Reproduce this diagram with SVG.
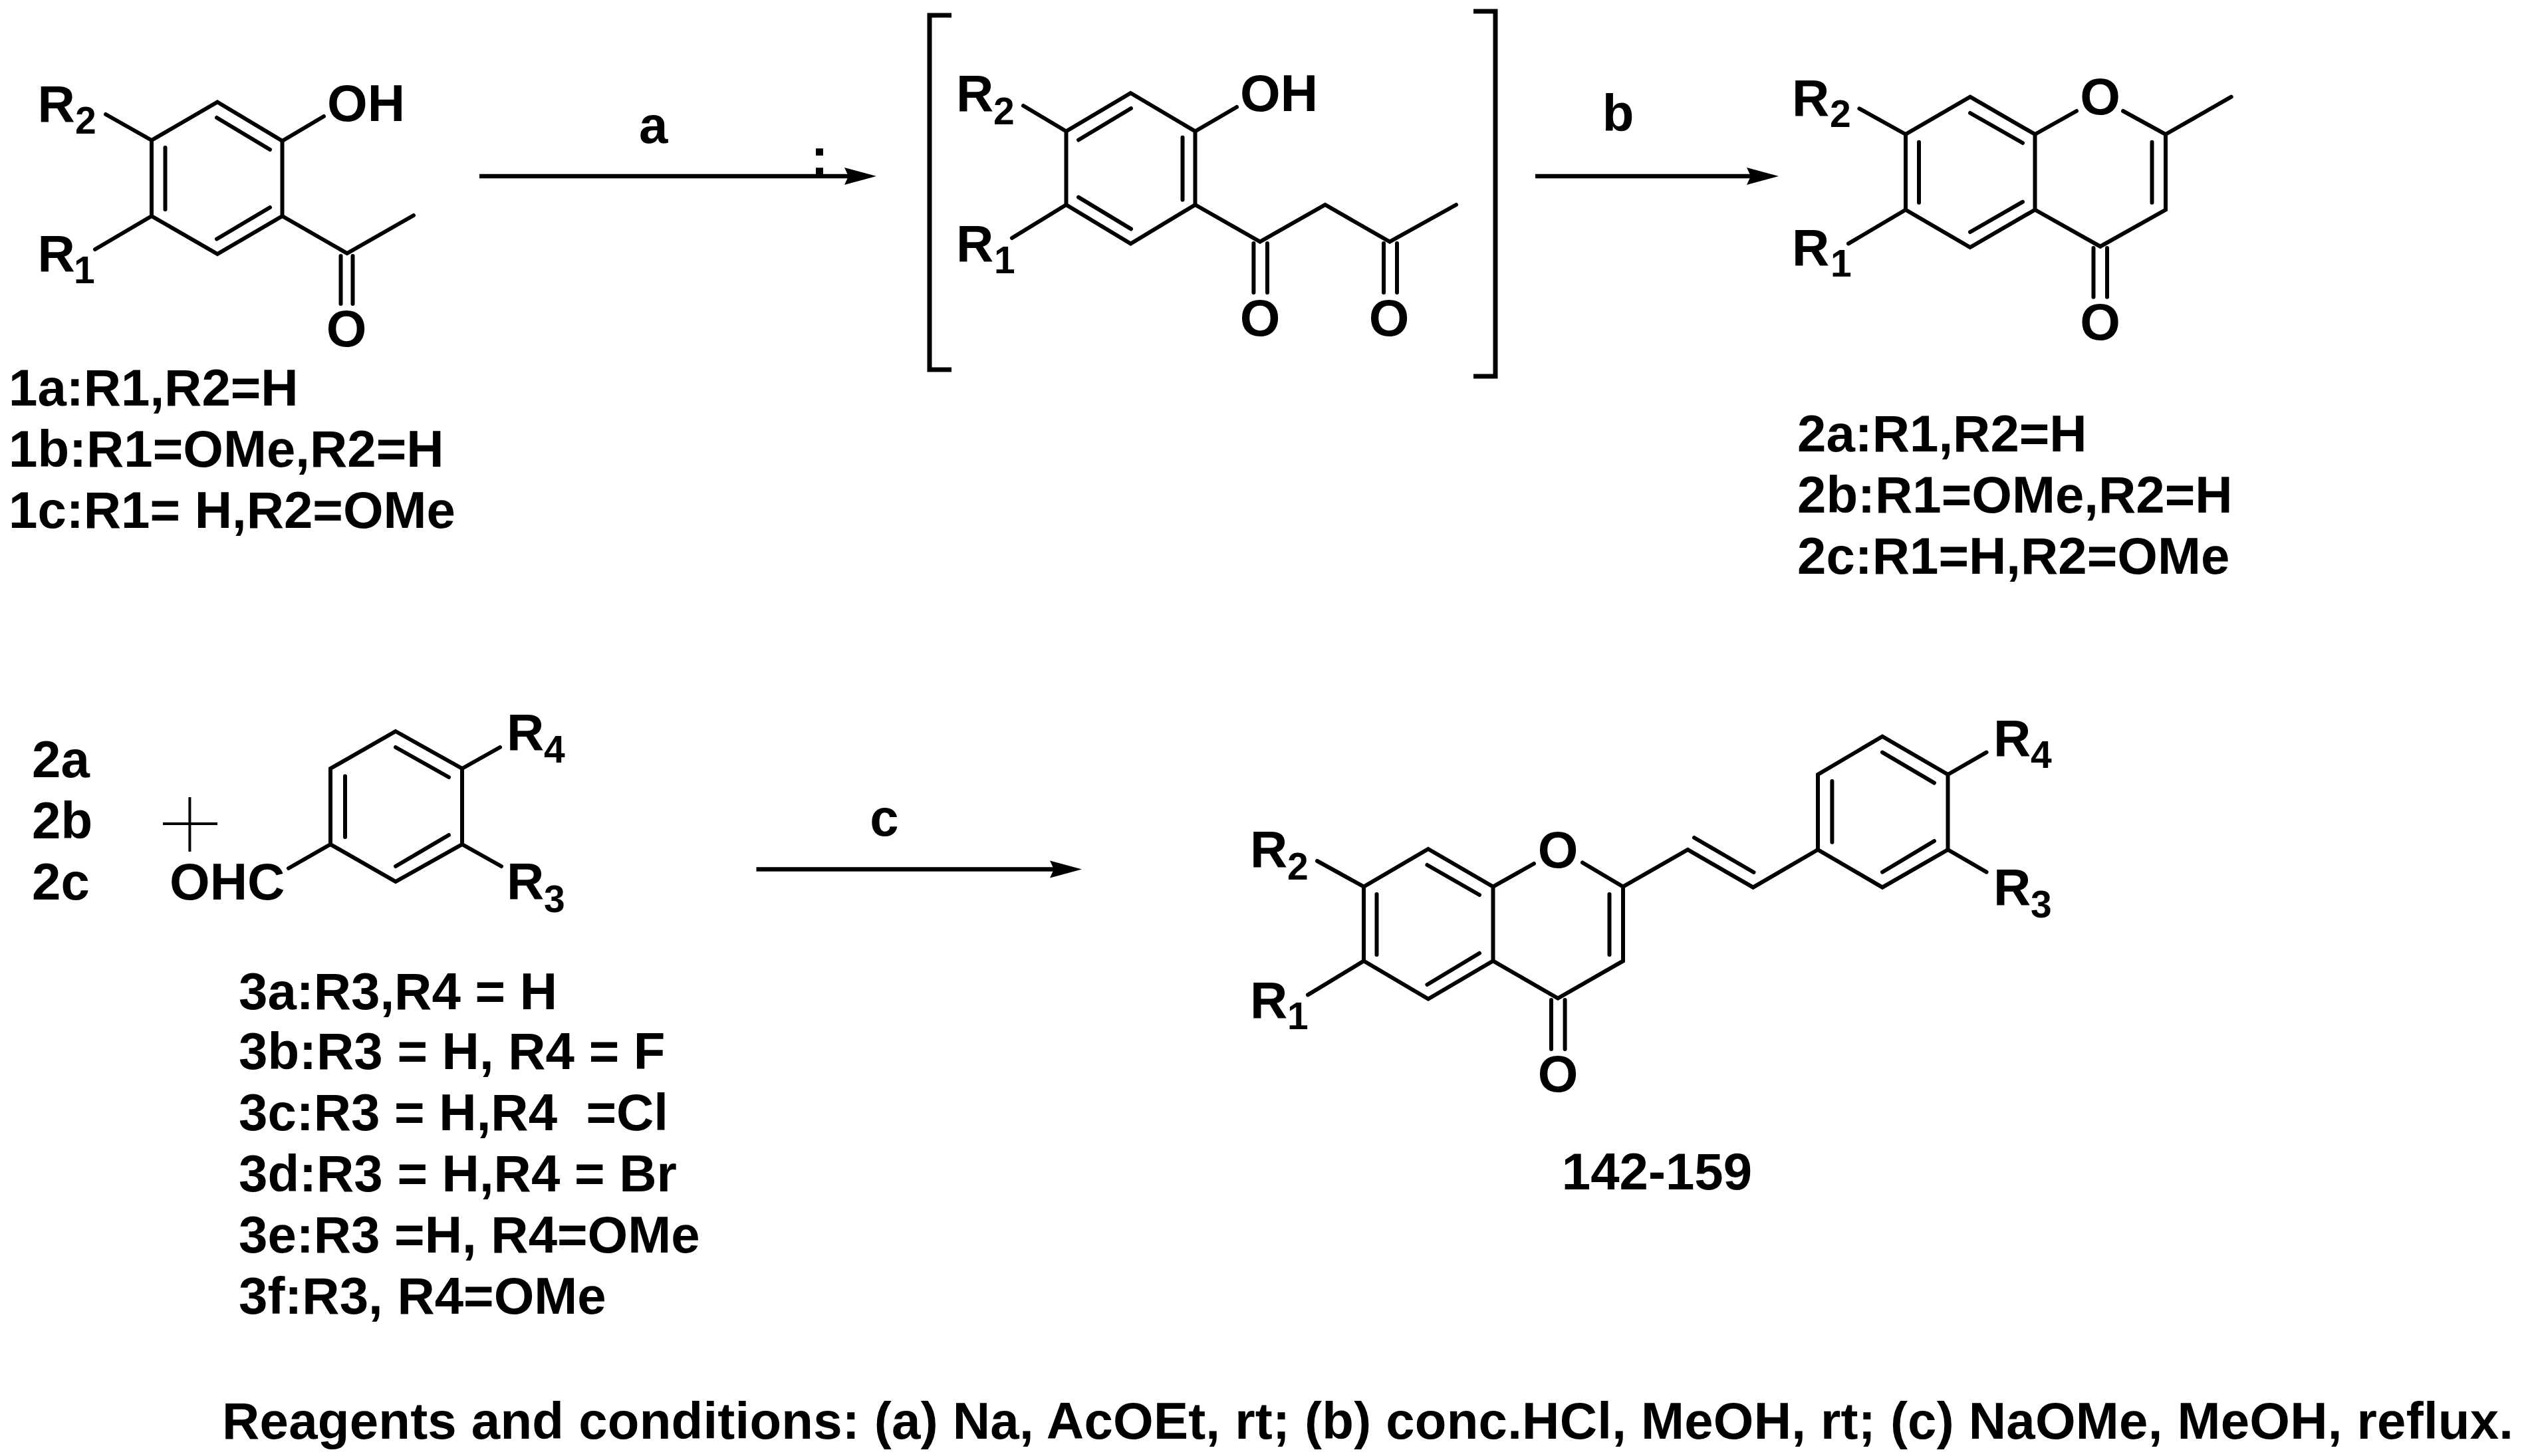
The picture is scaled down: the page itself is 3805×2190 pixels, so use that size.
<svg xmlns="http://www.w3.org/2000/svg" width="3805" height="2190" viewBox="0 0 3805 2190">
<style>
text{font-family:"Liberation Sans",Arial,sans-serif;font-weight:700;fill:#000;white-space:pre}
.t{font-size:78px}
.a{font-size:78px}
.s{font-size:57px}
.m{text-anchor:middle}
.b{fill:none;stroke:#000;stroke-width:6;stroke-linejoin:miter;stroke-linecap:round}
.k{fill:none;stroke:#000;stroke-width:7}
.p{fill:none;stroke:#000;stroke-width:4}
.r{fill:none;stroke:#000;stroke-width:6.5;marker-end:url(#h)}
</style>
<defs>
<marker id="h" markerUnits="userSpaceOnUse" markerWidth="50" markerHeight="28" viewBox="0 0 50 28" refX="6" refY="14" orient="auto"><path d="M0,1 L48,14 L0,27 L6,14 Z" fill="#000"/></marker>
</defs>
<rect width="3805" height="2190" fill="#fff"/>

<g id="connectors">
<path id="arrow-a" class="r" d="M721,265 H1276"/>
<path id="arrow-b" class="r" d="M2309,265 H2633"/>
<path id="arrow-c" class="r" d="M1137.5,1307.5 H1585"/>
<text class="t m" x="982.6" y="215">a</text>
<text class="a m" x="1232.5" y="263">:</text>
<text class="t m" x="2433.5" y="197">b</text>
<text class="t m" x="1330" y="1257">c</text>
</g>

<g id="compound-1">
<path class="b" d="M327,153.5 L424.5,212 V325 L327,382 L228,325 V211 Z"/>
<path class="b" d="M326,177 L406,225 M248.5,222 V315 M326,359.5 L406,312"/>
<path class="b" d="M228,211 L159,172 M424.5,212 L487,175 M228,325 L143,375 M424.5,325 L522,381 L622,324 M512.5,385 V457 M530.5,385 V457"/>
<text class="a" x="56.5" y="182.5">R<tspan class="s" x="113" y="200.5">2</tspan></text>
<text class="a" x="56.5" y="408">R<tspan class="s" x="111" y="426">1</tspan></text>
<text class="a" x="492" y="182">OH</text>
<text class="a m" x="521" y="521">O</text>
<text class="t" x="13" y="610">1a:R1,R2=H</text>
<text class="t" x="13" y="702">1b:R1=OMe,R2=H</text>
<text class="t" x="13" y="794">1c:R1= H,R2=OMe</text>
</g>

<g id="compound-intermediate">
<path class="k" d="M1431,23 H1398 V556 H1431 M2216,17 H2249 V566 H2216"/>
<path class="b" d="M1700.5,140 L1797.5,197.5 V308 L1700.5,366.6 L1603.5,308 V197.5 Z"/>
<path class="b" d="M1701,163 L1622,210.5 M1778.5,206.7 V300.4 M1622,296.6 L1701,344.4"/>
<path class="b" d="M1603.5,197.5 L1539,159 M1797.5,197.5 L1860,161 M1603.5,308 L1522,358 M1797.5,308 L1895,363.6 L1993,308 L2090,363.6 L2190,308 M1885.4,366 V440 M1906,366 V440 M2081,366 V440 M2101,366 V440"/>
<text class="a" x="1438" y="167">R<tspan class="s" x="1494" y="187">2</tspan></text>
<text class="a" x="1438" y="393">R<tspan class="s" x="1495" y="411">1</tspan></text>
<text class="a" x="1865" y="167">OH</text>
<text class="a m" x="1895" y="505">O</text>
<text class="a m" x="2089" y="505">O</text>
</g>

<g id="compound-2">
<path class="b" d="M2963,145.7 L3060.5,202 V315.5 L2963,372 L2866,315.5 V202 Z"/>
<path class="b" d="M2963,170 L3042,215 M2886,213.7 V304.8 M2963,349 L3042,303.7 M3236.5,213.7 V304.8"/>
<path class="b" d="M3060.5,202 L3123,167 M3193,167 L3257,202 V315.5 L3158.7,370.7 L3060.5,315.5 M3257,202 L3355.7,145.7 M2866,202 L2796.4,163.4 M2866,315.5 L2780,366.4 M3148.5,373 V446.7 M3169,373 V446.7"/>
<text class="a" x="2695" y="173.5">R<tspan class="s" x="2752" y="191">2</tspan></text>
<text class="a" x="2695" y="398.5">R<tspan class="s" x="2753" y="416">1</tspan></text>
<text class="a m" x="3158.7" y="171.5">O</text>
<text class="a m" x="3158.7" y="510.5">O</text>
<text class="t" x="2703" y="678.6">2a:R1,R2=H</text>
<text class="t" x="2703" y="771">2b:R1=OMe,R2=H</text>
<text class="t" x="2703" y="863">2c:R1=H,R2=OMe</text>
</g>

<g id="reactant-2-list">
<text class="t" x="48" y="1169">2a</text>
<text class="t" x="48" y="1260.6">2b</text>
<text class="t" x="48" y="1353">2c</text>
</g>

<g id="plus">
<path class="p" d="M245,1239 H327 M285.4,1199 V1281"/>
</g>

<g id="compound-3">
<path class="b" d="M595,1100 L695,1156 V1270 L595,1326 L497,1270 V1156 Z"/>
<path class="b" d="M595,1124 L675,1169 M519,1167.5 V1259 M595,1303 L675,1256"/>
<path class="b" d="M695,1156 L752,1124 M695,1270 L754,1303 M497,1270 L434,1306"/>
<text class="a" x="762" y="1128">R<tspan class="s" x="818" y="1147">4</tspan></text>
<text class="a" x="762" y="1352">R<tspan class="s" x="818" y="1372">3</tspan></text>
<text class="a" x="255" y="1353">OHC</text>
<text class="t" x="359" y="1517.5">3a:R3,R4 = H</text>
<text class="t" x="359" y="1608">3b:R3 = H, R4 = F</text>
<text class="t" x="359" y="1700">3c:R3 = H,R4  =Cl</text>
<text class="t" x="359" y="1792">3d:R3 = H,R4 = Br</text>
<text class="t" x="359" y="1884">3e:R3 =H, R4=OMe</text>
<text class="t" x="359" y="1976">3f:R3, R4=OMe</text>
</g>

<g id="compound-142-159">
<path class="b" d="M2148,1277 L2245.5,1333.7 V1445.4 L2148,1502.6 L2051,1445.4 V1333.7 Z"/>
<path class="b" d="M2146.4,1301 L2225,1346 M2070.5,1345 V1436 M2146.4,1481 L2225,1433.7 M2420.5,1345 V1436"/>
<path class="b" d="M2245.5,1333.7 L2307,1299 M2380,1297.5 L2441,1333.7 V1445.4 L2343,1501.5 L2245.5,1445.4 M2051,1333.7 L1981,1295 M2051,1445.4 L1967,1496.4 M2333,1504 V1578 M2353.6,1504 V1578"/>
<path class="b" d="M2441,1333.7 L2538.4,1278 L2636.6,1334.7 L2734,1278 M2548,1260 L2637.5,1312"/>
<path class="b" d="M2734,1278 V1165 L2831,1107.7 L2929.5,1165 V1278 L2831,1334.7 Z"/>
<path class="b" d="M2831,1131.6 L2909,1177.6 M2755.4,1175 V1266.8 M2831,1311.7 L2909,1265 M2929.5,1165 L2987.5,1131.6 M2929.5,1278 L2987.5,1311.7"/>
<text class="a" x="1880" y="1304">R<tspan class="s" x="1936" y="1323">2</tspan></text>
<text class="a" x="1880" y="1530.6">R<tspan class="s" x="1936" y="1548">1</tspan></text>
<text class="a m" x="2343" y="1305">O</text>
<text class="a m" x="2343" y="1642">O</text>
<text class="a" x="2998" y="1137">R<tspan class="s" x="3054" y="1155">4</tspan></text>
<text class="a" x="2998" y="1361">R<tspan class="s" x="3054" y="1380">3</tspan></text>
<text class="t m" x="2492" y="1789">142-159</text>
</g>

<g id="footer">
<text class="t" x="334" y="2164" textLength="3446" lengthAdjust="spacing">Reagents and conditions: (a) Na, AcOEt, rt; (b) conc.HCl, MeOH, rt; (c) NaOMe, MeOH, reflux.</text>
</g>
</svg>
